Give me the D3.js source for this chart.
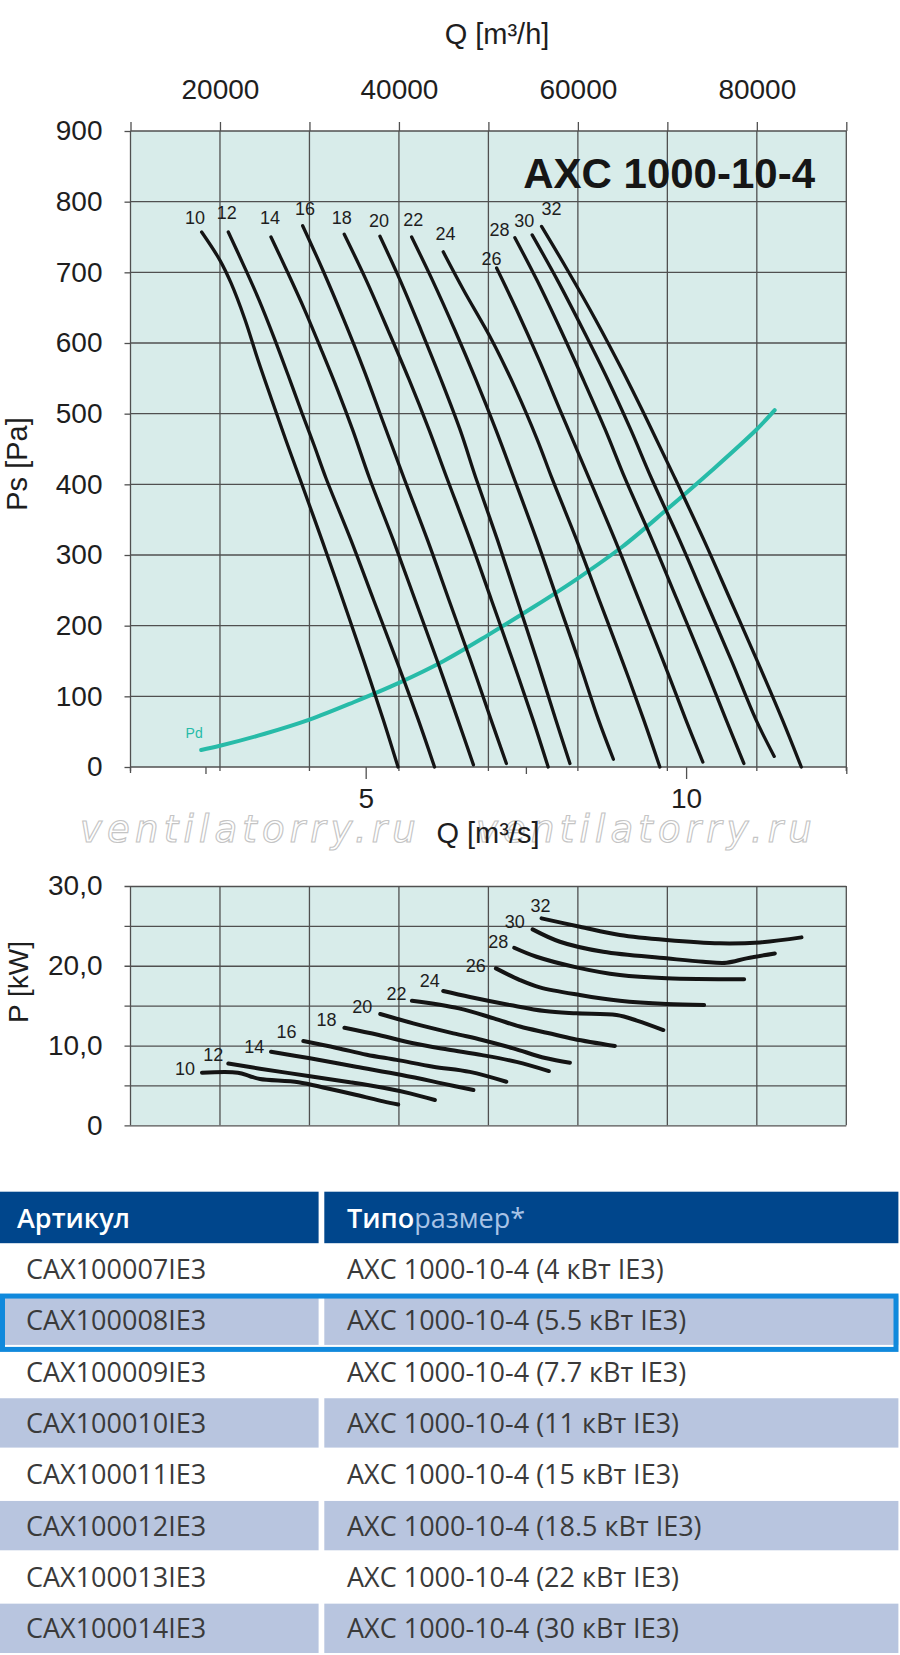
<!DOCTYPE html>
<html><head><meta charset="utf-8">
<script src="https://cdn.jsdelivr.net/npm/d3@7"></script>
<style>
html,body{margin:0;padding:0;background:#fff;}
svg{display:block;}
</style></head><body>
<svg id="c" width="900" height="1655"></svg>
<script>
// ---------- DATA ----------
const speeds = [10,12,14,16,18,20,22,24,26,28,30,32];

// Ps curves: airflow Q [m3/h] and static pressure Ps [Pa]
const psQ = [
  [17950,20000,21230,22800,24250,25800,27350,28900,31400,33750,36050,38250,39900],
  [20930,22790,24360,26030,27600,29160,30500,31840,34640,37180,39730,42160,43980],
  [25700,27450,29460,31340,33130,34830,36700,39370,41820,44260,46580,48330],
  [29240,31500,33840,36080,38150,40560,43200,45600,48000,50290,52010],
  [33890,36340,38790,41140,43370,45360,47970,50350,52710,54980,56680],
  [37880,40130,42480,44710,46840,48600,51020,53230,55430,57530,59110],
  [41420,43740,46260,48600,50840,52850,55410,57740,60080,62300,63970],
  [44950,47220,50390,53070,55470,57090,59870,62400,64940,67350,69160],
  [50920,53150,55660,58010,61230,64160,66840,69510,72060,73970],
  [52960,55420,58100,60610,63070,65250,68310,71110,73900,76560,78550],
  [54890,57710,60610,63350,65920,68210,71370,74260,77150,79900,81950],
  [55940,58850,61980,64940,67730,70840,74090,77060,80020,82850,84970]
];
const psPa = [
  [757,717,685,633,576,519,463,409,321,236,151,67,0],
  [757,706,661,608,555,501,456,409,321,236,151,67,0],
  [750,703,647,590,534,477,409,321,236,151,67,3],
  [766,703,633,562,491,409,321,236,151,67,5],
  [754,689,618,548,477,409,321,236,151,67,0],
  [751,689,618,548,477,409,321,236,151,67,5],
  [750,689,618,548,477,409,321,236,151,67,11],
  [729,675,604,534,463,409,321,236,151,67,0],
  [706,647,576,505,409,321,236,151,67,7],
  [749,689,618,548,477,409,321,236,151,67,5],
  [753,689,618,548,477,409,321,236,151,67,15],
  [765,703,633,562,491,409,321,236,151,67,0]
];
const psLabelQ  = [17210,20750,25590,29500,33600,37770,41600,45220,50360,51230,54000,57060];
const psLabelPa = [777,785,777,791,777,773,775,755,720,761,773,791];

// dynamic pressure curve Pd
const pdQ  = [17900,20000,25000,30000,35000,40000,45000,50000,55000,60000,65000,70000,75000,80000,82000];
const pdPa = [24,30,47,67,92,119,150,187,226,267,312,365,420,478,505];

// Power curves: Q [m3/h] and P [kW]
const pwQ = [
  [17990,22000,23350,24470,28770,31920,35270,38250,39920],
  [20930,24470,30060,34520,38250,41230,44020],
  [25700,30060,35200,40310,44800,48330],
  [29310,33040,36390,39740,43830,47930,52010],
  [33910,37750,41600,45450,49300,53140,56760],
  [37910,41600,46090,49300,52770,56360,59110],
  [41450,46700,50610,53520,56650,59550,64130],
  [44950,47930,52400,56310,59850,64320,66590,69550],
  [50840,53520,55750,60220,64690,69910,74110],
  [52880,55380,59850,64690,69910,78580],
  [54940,57990,62830,69910,74000,76610,78850,82010],
  [55940,60220,64690,69910,75870,80330,84990]
];
const pwKW = [
  [6.6,6.6,6.15,5.8,5.4,4.65,3.8,3.0,2.6],
  [7.75,7.1,6.15,5.4,4.7,4.0,3.17],
  [9.22,8.4,7.34,6.3,5.26,4.42],
  [10.56,9.7,8.85,8.2,7.35,6.7,5.46],
  [12.23,11.32,10.28,9.5,8.8,7.95,6.8],
  [13.95,12.78,11.53,10.7,9.65,8.43,7.84],
  [15.61,14.66,13.41,12.38,11.57,10.82,9.94],
  [16.83,16.08,15.08,14.32,14.04,13.82,13.13,11.94],
  [19.67,18.21,17.29,16.33,15.61,15.2,15.08],
  [22.26,21.13,19.8,18.83,18.42,18.3],
  [24.56,23.01,21.75,20.93,20.5,20.38,20.93,21.55],
  [25.94,24.89,23.85,23.22,22.81,22.93,23.56]
];
const pwLabelQ  = [16090,19250,23830,27450,31920,35900,39740,43460,48600,51090,52960,55830];
const pwLabelKW = [7.14,8.93,9.85,11.73,13.2,14.86,16.54,18.21,20.09,23.0,25.51,27.61];

// axes / ticks
const qhGrid   = [10000,20000,30000,40000,50000,60000,70000,80000,90000];
const qhLabels = [20000,40000,60000,80000];
const qsTicks  = [2.5,5,7.5,10,12.5];
const qsLabels = [5,10];
const psTicks  = [0,100,200,300,400,500,600,700,800,900];
const pwGrid   = [0,5,10,15,20,25,30];
const pwLabels = [0,10,20,30];

const title = "AXC 1000-10-4";

// table
const tableHead = ["Артикул","Типо","размер*"];
const articles = ["CAX100007IE3","CAX100008IE3","CAX100009IE3","CAX100010IE3","CAX100011IE3","CAX100012IE3","CAX100013IE3","CAX100014IE3"];
const models = ["AXC 1000-10-4 (4 кВт IE3)","AXC 1000-10-4 (5.5 кВт IE3)","AXC 1000-10-4 (7.7 кВт IE3)","AXC 1000-10-4 (11 кВт IE3)","AXC 1000-10-4 (15 кВт IE3)","AXC 1000-10-4 (18.5 кВт IE3)","AXC 1000-10-4 (22 кВт IE3)","AXC 1000-10-4 (30 кВт IE3)"];
const highlighted = 1;

// ---------- DRAWING ----------
const svg = d3.select("#c");
const FONT = "'Liberation Sans', Arial, Helvetica, sans-serif";
const GRID = "#505050";
const TXT = "#1e1e1e";
const BG = "#d8ecea";
const TEAL = "#27bba8";
const L = 130.5, R = 846.3, T1 = 131, B1 = 767, T2 = 886, B2 = 1125.3;

const x  = d3.scaleLinear().domain([10000, 90000]).range([L, R]);
const xs = d3.scaleLinear().domain([1.33, 12.5]).range([L, R]);
const y1 = d3.scaleLinear().domain([0, 900]).range([B1, T1]);
const y2 = d3.scaleLinear().domain([0, 30]).range([B2, T2]);

// ===== Top chart =====
svg.append("rect").attr("x", L).attr("y", T1).attr("width", R - L).attr("height", B1 - T1).attr("fill", BG);

const g1 = svg.append("g");
g1.selectAll("line.v").data(qhGrid).join("line").attr("class", "v")
  .attr("x1", d => x(d)).attr("x2", d => x(d)).attr("y1", T1).attr("y2", B1 + 4)
  .attr("stroke", GRID).attr("stroke-width", 1.3);
g1.selectAll("line.h").data(psTicks).join("line").attr("class", "h")
  .attr("x1", L).attr("x2", R).attr("y1", d => y1(d)).attr("y2", d => y1(d))
  .attr("stroke", GRID).attr("stroke-width", 1.3);

// top axis (m3/h)
const axTop = svg.append("g").attr("transform", `translate(0,${T1})`)
  .call(d3.axisTop(x).tickValues(qhGrid).tickSize(9).tickPadding(23)
    .tickFormat(d => qhLabels.includes(d) ? String(d) : ""));
// left axis (Pa)
const axLeft = svg.append("g").attr("transform", `translate(${L},0)`)
  .call(d3.axisLeft(y1).tickValues(psTicks).tickSize(6).tickPadding(22));
// bottom axis (m3/s)
const axBot = svg.append("g").attr("transform", `translate(0,${B1})`)
  .call(d3.axisBottom(xs).tickValues(qsTicks).tickSize(7).tickPadding(14)
    .tickFormat(d => qsLabels.includes(d) ? String(d) : ""));
axBot.selectAll(".tick line").attr("y2", d => qsLabels.includes(d) ? 12 : 7);
[axTop, axLeft, axBot].forEach(a => {
  a.select(".domain").remove();
  a.selectAll(".tick line").attr("stroke", GRID).attr("stroke-width", 1.3);
  a.selectAll(".tick text").attr("font-family", FONT).attr("font-size", 28).attr("fill", TXT);
});
svg.append("line").attr("x1", L).attr("x2", L).attr("y1", B1).attr("y2", B1 + 6).attr("stroke", GRID).attr("stroke-width", 1.3);

// axis titles
svg.append("text").attr("x", 497).attr("y", 44).attr("text-anchor", "middle")
  .attr("font-family", FONT).attr("font-size", 29).attr("fill", TXT).text("Q [m³/h]");
svg.append("text").attr("transform", "translate(27,464) rotate(-90)").attr("text-anchor", "middle")
  .attr("font-family", FONT).attr("font-size", 29).attr("fill", TXT).text("Ps [Pa]");

// title
svg.append("text").attr("x", 815).attr("y", 188).attr("text-anchor", "end")
  .attr("font-family", FONT).attr("font-weight", "bold").attr("font-size", 42).attr("fill", "#161616").text(title);

// Pd curve
const lineTop = d3.line().x(d => x(d[0])).y(d => y1(d[1])).curve(d3.curveCatmullRom.alpha(0.5));
svg.append("path").datum(pdQ.map((q, i) => [q, pdPa[i]])).attr("d", lineTop)
  .attr("fill", "none").attr("stroke", TEAL).attr("stroke-width", 4).attr("stroke-linecap", "round");
svg.append("text").attr("x", x(pdQ[0]) - 7).attr("y", y1(pdPa[0]) - 12)
  .attr("text-anchor", "middle").attr("font-family", FONT).attr("font-size", 14).attr("fill", TEAL).text("Pd");

// Ps curves
svg.append("g").selectAll("path").data(speeds).join("path")
  .attr("d", (s, i) => lineTop(psQ[i].map((q, j) => [q, psPa[i][j]])))
  .attr("fill", "none").attr("stroke", "#141414").attr("stroke-width", 3.3).attr("stroke-linecap", "round");
svg.append("g").selectAll("text").data(speeds).join("text")
  .attr("x", (s, i) => x(psLabelQ[i])).attr("y", (s, i) => y1(psLabelPa[i])).attr("dy", "0.36em")
  .attr("text-anchor", "middle").attr("font-family", FONT).attr("font-size", 18).attr("fill", TXT).text(s => s);

// watermark (drawn under the axis title)
svg.append("g").selectAll("text").data(["ventilatorry.ru", "ventilatorry.ru"]).join("text")
  .attr("x", (d, i) => i === 0 ? 80 : 476).attr("y", 842)
  .attr("font-family", "'DejaVu Sans', sans-serif").attr("font-style", "italic").attr("font-size", 37)
  .attr("letter-spacing", 5.2)
  .attr("fill", "rgba(255,255,255,0.55)").attr("stroke", "#c4c4c4").attr("stroke-width", 1.1).text(d => d);

// bottom title
svg.append("text").attr("x", 488).attr("y", 843).attr("text-anchor", "middle")
  .attr("font-family", FONT).attr("font-size", 29).attr("fill", TXT).text("Q [m³/s]");

// ===== Power chart =====
svg.append("rect").attr("x", L).attr("y", T2).attr("width", R - L).attr("height", B2 - T2).attr("fill", BG);
const g2 = svg.append("g");
g2.selectAll("line.v").data(qhGrid).join("line")
  .attr("x1", d => x(d)).attr("x2", d => x(d)).attr("y1", T2).attr("y2", B2)
  .attr("stroke", GRID).attr("stroke-width", 1.3);
const axP = svg.append("g").attr("transform", `translate(${L},0)`)
  .call(d3.axisLeft(y2).tickValues(pwGrid).tickSize(6).tickPadding(22)
    .tickFormat(d => pwLabels.includes(d) ? (d === 0 ? "0" : d.toFixed(1).replace(".", ",")) : ""));
axP.select(".domain").remove();
axP.selectAll(".tick line").attr("x2", R - L).attr("x1", -6).attr("stroke", GRID).attr("stroke-width", 1.3);
axP.selectAll(".tick text").attr("font-family", FONT).attr("font-size", 28).attr("fill", TXT);

svg.append("text").attr("transform", "translate(28,982) rotate(-90)").attr("text-anchor", "middle")
  .attr("font-family", FONT).attr("font-size", 28).attr("fill", TXT).text("P [kW]");

const lineP = d3.line().x(d => x(d[0])).y(d => y2(d[1])).curve(d3.curveCatmullRom.alpha(0.5));
svg.append("g").selectAll("path").data(speeds).join("path")
  .attr("d", (s, i) => lineP(pwQ[i].map((q, j) => [q, pwKW[i][j]])))
  .attr("fill", "none").attr("stroke", "#141414").attr("stroke-width", 4).attr("stroke-linecap", "round");
svg.append("g").selectAll("text").data(speeds).join("text")
  .attr("x", (s, i) => x(pwLabelQ[i])).attr("y", (s, i) => y2(pwLabelKW[i])).attr("dy", "0.36em")
  .attr("text-anchor", "middle").attr("font-family", FONT).attr("font-size", 18).attr("fill", TXT).text(s => s);

// ===== Table =====
const TF = "'Open Sans', 'Noto Sans', sans-serif";
const headTop = 1191.7, rowH = 51.35, headH = 51.5;
const colL = [0, 318.6], colR = [324.3, 898.4];
const tb = svg.append("g");
tb.append("rect").attr("x", colL[0]).attr("y", headTop).attr("width", colL[1] - colL[0]).attr("height", headH).attr("fill", "#00468c");
tb.append("rect").attr("x", colR[0]).attr("y", headTop).attr("width", colR[1] - colR[0]).attr("height", headH).attr("fill", "#00468c");
tb.append("text").attr("x", 17).attr("y", headTop + 36.5).attr("font-family", TF).attr("font-size", 27)
  .attr("font-weight", 600).attr("fill", "#ffffff").text(tableHead[0]);
const ht = tb.append("text").attr("x", 347).attr("y", headTop + 36.5).attr("font-family", TF).attr("font-size", 27).attr("fill", "#ffffff");
ht.append("tspan").attr("font-weight", 600).text(tableHead[1]);
ht.append("tspan").attr("font-weight", 400).attr("fill", "#a8c3e6").text(tableHead[2]);

const rowTop = i => headTop + headH + i * rowH;
const rows = tb.selectAll("g.row").data(articles).join("g").attr("class", "row");
rows.each(function (d, i) {
  if (i % 2 === 1) {
    d3.select(this).append("rect").attr("x", colL[0]).attr("y", rowTop(i) + 1).attr("width", colL[1] - colL[0]).attr("height", rowH - 2).attr("fill", "#b8c5df");
    d3.select(this).append("rect").attr("x", colR[0]).attr("y", rowTop(i) + 1).attr("width", colR[1] - colR[0]).attr("height", rowH - 2).attr("fill", "#b8c5df");
  }
});
rows.append("text").attr("x", 26).attr("y", (d, i) => rowTop(i) + rowH / 2 + 10)
  .attr("font-family", TF).attr("font-size", 27).attr("fill", "#3a3a3a").text(d => d);
rows.append("text").attr("x", 347).attr("y", (d, i) => rowTop(i) + rowH / 2 + 10)
  .attr("font-family", TF).attr("font-size", 27).attr("fill", "#3a3a3a").text((d, i) => models[i]);
tb.append("rect").attr("x", 2.5).attr("y", rowTop(highlighted) + 1.5).attr("width", 893.5).attr("height", rowH + 2)
  .attr("fill", "none").attr("stroke", "#1089dc").attr("stroke-width", 5);
</script>
</body></html>
